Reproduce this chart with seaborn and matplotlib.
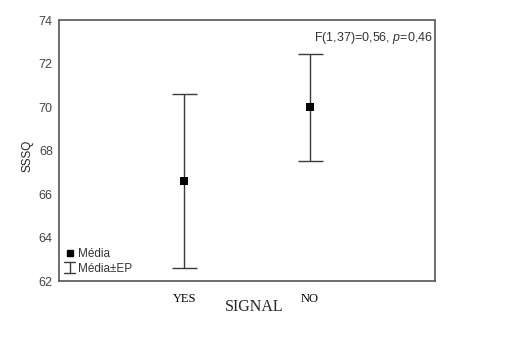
import matplotlib
matplotlib.use("Agg")
import matplotlib.pyplot as plt
import seaborn as sns
import pandas as pd
from matplotlib.lines import Line2D
from matplotlib.legend_handler import HandlerBase

categories = ["YES", "NO"]
means = [66.6, 70.0]
se = [4.0, 2.47]
yticks = [62, 64, 66, 68, 70, 72, 74]

sns.set_style("white")
plt.rcParams['font.family'] = ['Liberation Sans', 'DejaVu Sans']
plt.rcParams['mathtext.fontset'] = 'custom'
plt.rcParams['mathtext.rm'] = 'Liberation Sans'
plt.rcParams['mathtext.it'] = 'Liberation Sans:italic'

fig = plt.figure(figsize=(5.05, 3.59), dpi=100)
ax = fig.add_axes([59/505, 1 - 281/359, (435-59)/505, (281-20.5)/359])

df = pd.DataFrame({"SIGNAL": categories, "SSSQ": means, "se": se})
ax.errorbar(df["SIGNAL"], df["SSSQ"], yerr=df["se"], fmt="none",
            ecolor="#3a3a3a", elinewidth=1.0, capsize=9, capthick=1.0, zorder=2)
sns.scatterplot(data=df, x="SIGNAL", y="SSSQ", marker="s", color="black",
                s=30, edgecolor="black", linewidth=0, ax=ax, zorder=3, legend=False)

ax.set_xlim(-1, 2)
ax.set_ylim(62, 74)
ax.set_yticks(yticks)
ax.set_yticklabels([str(t) for t in yticks], fontsize=9, color="#444444")
ax.set_xticks([0, 1])
ax.set_xticklabels(categories, family=['Liberation Serif'], fontsize=9, color="black")
ax.tick_params(axis="y", direction="out", length=3, width=0.8, color="#555555", pad=1.5)
ax.tick_params(axis="x", direction="out", length=3, width=0.8, color="#555555", pad=6)
for s in ax.spines.values():
    s.set_color("#555555")
    s.set_linewidth(1.2)

ax.set_xlabel("SIGNAL", family=['Liberation Serif'], fontsize=11.5)
ax.xaxis.set_label_coords(0.52, -0.10, transform=ax.transAxes)
ax.xaxis.label.set_va("center")
ax.set_ylabel("SSSQ", fontsize=8.5)
ax.yaxis.set_label_coords(-0.085, 0.48, transform=ax.transAxes)
ax.yaxis.label.set_va("center")

ax.text(0.995, 0.965, r"F(1,37)=0,56, $\it{p}$=0,46", transform=ax.transAxes,
        ha="right", va="top", fontsize=9, color="#333333")


class ErrHandler(HandlerBase):
    def create_artists(self, legend, orig, xd, yd, w, h, fontsize, trans):
        cx = xd + w / 2
        arts = [Line2D([cx, cx], [yd - 1, yd + h + 1], color="#3a3a3a", lw=1),
                Line2D([cx - 4, cx + 4], [yd - 1, yd - 1], color="#3a3a3a", lw=1),
                Line2D([cx - 4, cx + 4], [yd + h + 1, yd + h + 1], color="#3a3a3a", lw=1)]
        for a in arts:
            a.set_transform(trans)
        return arts


h1 = Line2D([], [], marker="s", color="black", linestyle="none", markersize=5)
h2 = object()
leg = ax.legend([h1, h2], ["Média", "Média±EP"], loc="lower left",
                handler_map={object: ErrHandler()}, frameon=False, fontsize=8.5,
                handlelength=0.8, handletextpad=0.3, borderaxespad=0.3,
                labelspacing=0.25, borderpad=0.2)
for t in leg.get_texts():
    t.set_color("#333333")

fig.savefig("out.png", dpi=100)
